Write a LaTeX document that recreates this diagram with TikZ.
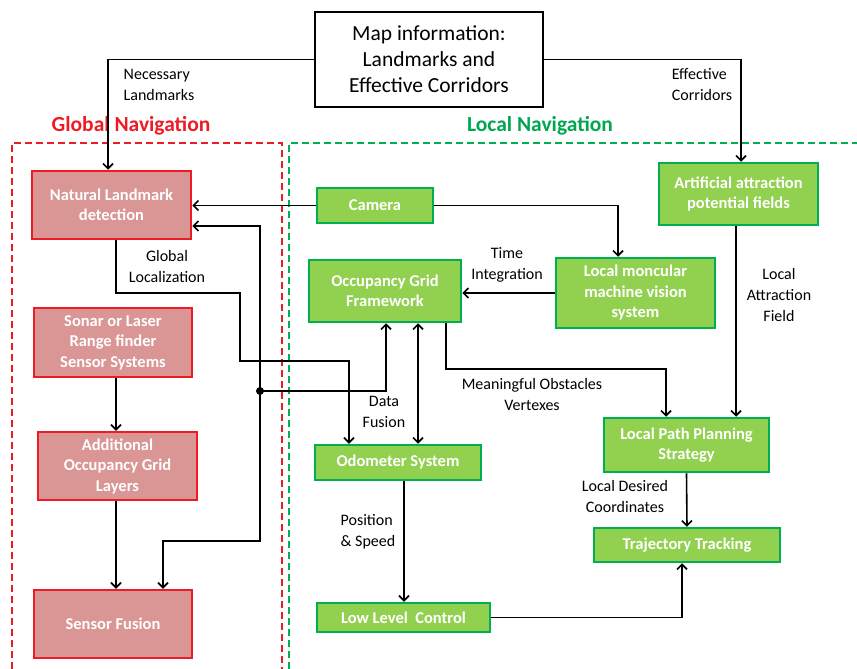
\documentclass[tikz,border=0pt]{standalone}
\usepackage{fontspec}
\setmainfont{Carlito}
\usetikzlibrary{arrows.meta}
\definecolor{rfill}{RGB}{217,150,148}
\definecolor{rline}{RGB}{236,28,36}
\definecolor{gfill}{RGB}{146,208,80}
\definecolor{gline}{RGB}{0,176,80}
\definecolor{gtext}{RGB}{0,166,80}
\tikzset{
  rbox/.style={draw=rline, fill=rfill, line width=2.5pt, text=white, font=\fontsize{16.5}{20.5}\selectfont\bfseries, align=center, inner sep=0pt},
  gbox/.style={draw=gline, fill=gfill, line width=2.5pt, text=white, font=\fontsize{16.5}{20.5}\selectfont\bfseries, align=center, inner sep=0pt},
  lbl/.style={font=\fontsize{16}{21}\selectfont, align=center, inner sep=0pt},
  arr/.style={line width=1.6pt, -{Straight Barb[length=5pt,width=10pt,line width=1.6pt]}},
  arrboth/.style={line width=1.6pt, {Straight Barb[length=5pt,width=10pt,line width=1.6pt]}-{Straight Barb[length=5pt,width=10pt,line width=1.6pt]}},
  rdash/.style={draw=rline, line width=2pt, dash pattern=on 7pt off 4pt},
  gdash/.style={draw=gline, line width=2pt, dash pattern=on 7pt off 4pt},
}
\begin{document}
\begin{tikzpicture}[x=1pt,y=-1pt]
\useasboundingbox (0,0) rectangle (857,669);
% region frames
\draw[rdash] (12,669) -- (12,143) -- (282,143) -- (282,669);
\draw[gdash] (289,669) -- (289,143) -- (857,143);
\node[font=\fontsize{21.5}{24}\selectfont\bfseries, text=rline] (gtitle) at (131,126) {Global Navigation};
\node[font=\fontsize{21.5}{24}\selectfont\bfseries, text=gtext] (ltitle) at (540,126) {Local Navigation};
% map box
\node[draw=black, line width=2.5pt, fill=white, minimum width=228pt, minimum height=95pt, align=center, font=\fontsize{21.5}{26}\selectfont] (map) at (429,59.5) {Map information:\\Landmarks and\\Effective Corridors};
% red boxes
\node[rbox, minimum width=159pt, minimum height=68pt] (nl) at (111.5,205) {Natural Landmark\\detection};
\node[rbox, minimum width=158pt, minimum height=69pt] (son) at (113,342.5) {Sonar or Laser\\Range finder\\Sensor Systems};
\node[rbox, minimum width=159pt, minimum height=68pt] (add) at (117.5,466) {Additional\\Occupancy Grid\\Layers};
\node[rbox, minimum width=158pt, minimum height=68pt] (sf) at (113,624) {Sensor Fusion};
% green boxes
\node[gbox, minimum width=116pt, minimum height=35pt] (cam) at (375,205.5) {Camera};
\node[gbox, minimum width=152pt, minimum height=62pt] (ogf) at (385,291) {Occupancy Grid\\Framework};
\node[gbox, minimum width=159pt, minimum height=70pt] (lmv) at (635.5,293) {Local moncular\\machine vision\\system};
\node[gbox, minimum width=159pt, minimum height=62pt] (art) at (738.5,194) {Artificial attraction\\potential fields};
\node[gbox, minimum width=165pt, minimum height=54pt] (lpp) at (686.5,445) {Local Path Planning\\Strategy};
\node[gbox, minimum width=166pt, minimum height=35pt] (odo) at (398,462.5) {Odometer System};
\node[gbox, minimum width=186pt, minimum height=34pt] (trj) at (687,545) {Trajectory Tracking};
\node[gbox, minimum width=173pt, minimum height=29pt] (low) at (403.5,617.5) {Low Level\ \ Control};
% labels
\node[lbl, align=left] (l1) at (159,85) {Necessary\\Landmarks};
\node[lbl, align=left] (l2) at (702,85) {Effective\\Corridors};
\node[lbl] (l3) at (167,267) {Global\\Localization};
\node[lbl] (l4) at (507,265) {Time\\Integration};
\node[lbl] (l5) at (384,412) {Data\\Fusion};
\node[lbl] (l6) at (532,395) {Meaningful Obstacles\\Vertexes};
\node[lbl] (l7) at (779,295) {Local\\Attraction\\Field};
\node[lbl] (l8) at (625,496) {Local Desired\\Coordinates};
\node[lbl, align=left] (l9) at (368,532) {Position\\\& Speed};
% connectors
\coordinate (g1) at (240,293);
\coordinate (g2) at (349,361);
\coordinate (m1) at (556,369);
\coordinate (dot) at (260,391);
\coordinate (b1) at (260,541);
\draw[arr] (map.west) -| ([xshift=-3.5pt]nl.north);
\draw[arr] (map.east) -| ([xshift=2.5pt]art.north);
\draw[arr] (cam.west) -- (nl.east |- cam.west);
\draw[arr] (cam.east) -| ([xshift=-17.5pt]lmv.north);
\fill (dot) circle (4pt);
\draw[arr] (dot) |- ([yshift=-21pt]nl.east);
\draw[arr] (dot) -| ([xshift=1pt]ogf.south);
\draw[arr] (dot) -- (b1) -| ([xshift=50pt]sf.north);
\draw[arr] ([xshift=4.5pt]nl.south) |- (g1) |- (g2) -- ([xshift=-49pt]odo.north);
\draw[arrboth] ([xshift=33pt]ogf.south) -- ([xshift=20pt]odo.north);
\draw[arr] (lmv.west) -- (ogf.east |- lmv.west);
\draw[arr] ([xshift=61pt]ogf.south) |- (m1) -| ([xshift=-20.5pt]lpp.north);
\draw[arr] ([xshift=-2.5pt]art.south) -- ([xshift=-2.5pt]art.south |- lpp.north);
\draw[arr] (lpp.south) -- (trj.north);
\draw[arr] ([xshift=6pt]odo.south) -- ([xshift=0.5pt]low.north);
\draw[arr] (low.east) -| ([xshift=-5pt]trj.south);
\draw[arr] ([xshift=3pt]son.south) -- ([xshift=-1.5pt]add.north);
\draw[arr] ([xshift=-1.5pt]add.south) -- ([xshift=3pt]sf.north);
\end{tikzpicture}
\end{document}
